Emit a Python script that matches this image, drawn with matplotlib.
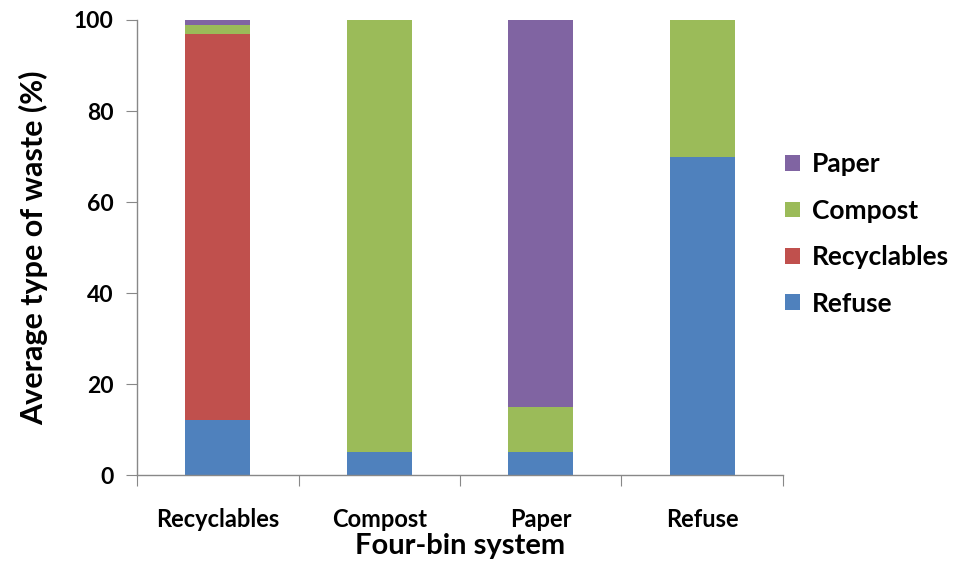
import matplotlib
matplotlib.use("Agg")
import matplotlib.pyplot as plt
import numpy as np

plt.rcParams['font.family'] = ['Lato', 'DejaVu Sans']

categories = ["Recyclables", "Compost", "Paper", "Refuse"]
refuse = [12, 5, 5, 70]
recyclables = [85, 0, 0, 0]
compost = [2, 95, 10, 30]
paper = [1, 0, 85, 0]

series = [
    ("Refuse", refuse, "#4F81BD"),
    ("Recyclables", recyclables, "#C0504D"),
    ("Compost", compost, "#9BBB59"),
    ("Paper", paper, "#8064A2"),
]

fig = plt.figure(figsize=(9.67, 5.88), dpi=100)
ax = fig.add_axes([0.1417, 0.192, 0.668, 0.774])

x = np.arange(len(categories))
bottom = np.zeros(len(categories))
handles = []
for name, vals, color in series:
    vals = np.array(vals, dtype=float)
    b = ax.bar(x, vals, width=0.4, bottom=bottom, color=color, label=name, zorder=2)
    handles.append(b)
    bottom += vals

ax.set_xlim(-0.5, len(categories) - 0.5)
ax.set_ylim(0, 100)
ax.set_yticks([0, 20, 40, 60, 80, 100])

# tick marks sit on category boundaries, labels at the centres
ax.set_xticks(np.arange(-0.5, len(categories), 1.0))
ax.set_xticklabels([])
ax.set_xticks(x, minor=True)
ax.set_xticklabels(categories, minor=True)
ax.tick_params(axis='x', which='minor', length=0, pad=24)
ax.tick_params(axis='x', which='major', length=8, color='#888888', direction='out')
ax.tick_params(axis='y', length=8, color='#888888', direction='out', pad=9)

for lbl in ax.get_xticklabels(minor=True):
    lbl.set_fontsize(17)
    lbl.set_fontweight('bold')
for lbl in ax.get_yticklabels():
    lbl.set_fontsize(16.5)
    lbl.set_fontweight('bold')

for s in ('top', 'right'):
    ax.spines[s].set_visible(False)
for s in ('left', 'bottom'):
    ax.spines[s].set_color('#888888')
    ax.spines[s].set_linewidth(1.0)

ax.set_ylabel("Average type of waste (%)", fontsize=22, fontweight='bold', labelpad=18)
ax.set_xlabel("Four-bin system", fontsize=21, fontweight='bold', labelpad=1)

leg = fig.legend(handles[::-1], [h.get_label() for h in handles[::-1]],
                 loc='center left', bbox_to_anchor=(0.812, 0.602), frameon=False,
                 borderpad=0, borderaxespad=0,
                 prop={'size': 19, 'weight': 'bold'}, handlelength=0.55, handleheight=0.55,
                 handletextpad=0.45, labelspacing=0.85)

fig.savefig("out.png", dpi=100)
